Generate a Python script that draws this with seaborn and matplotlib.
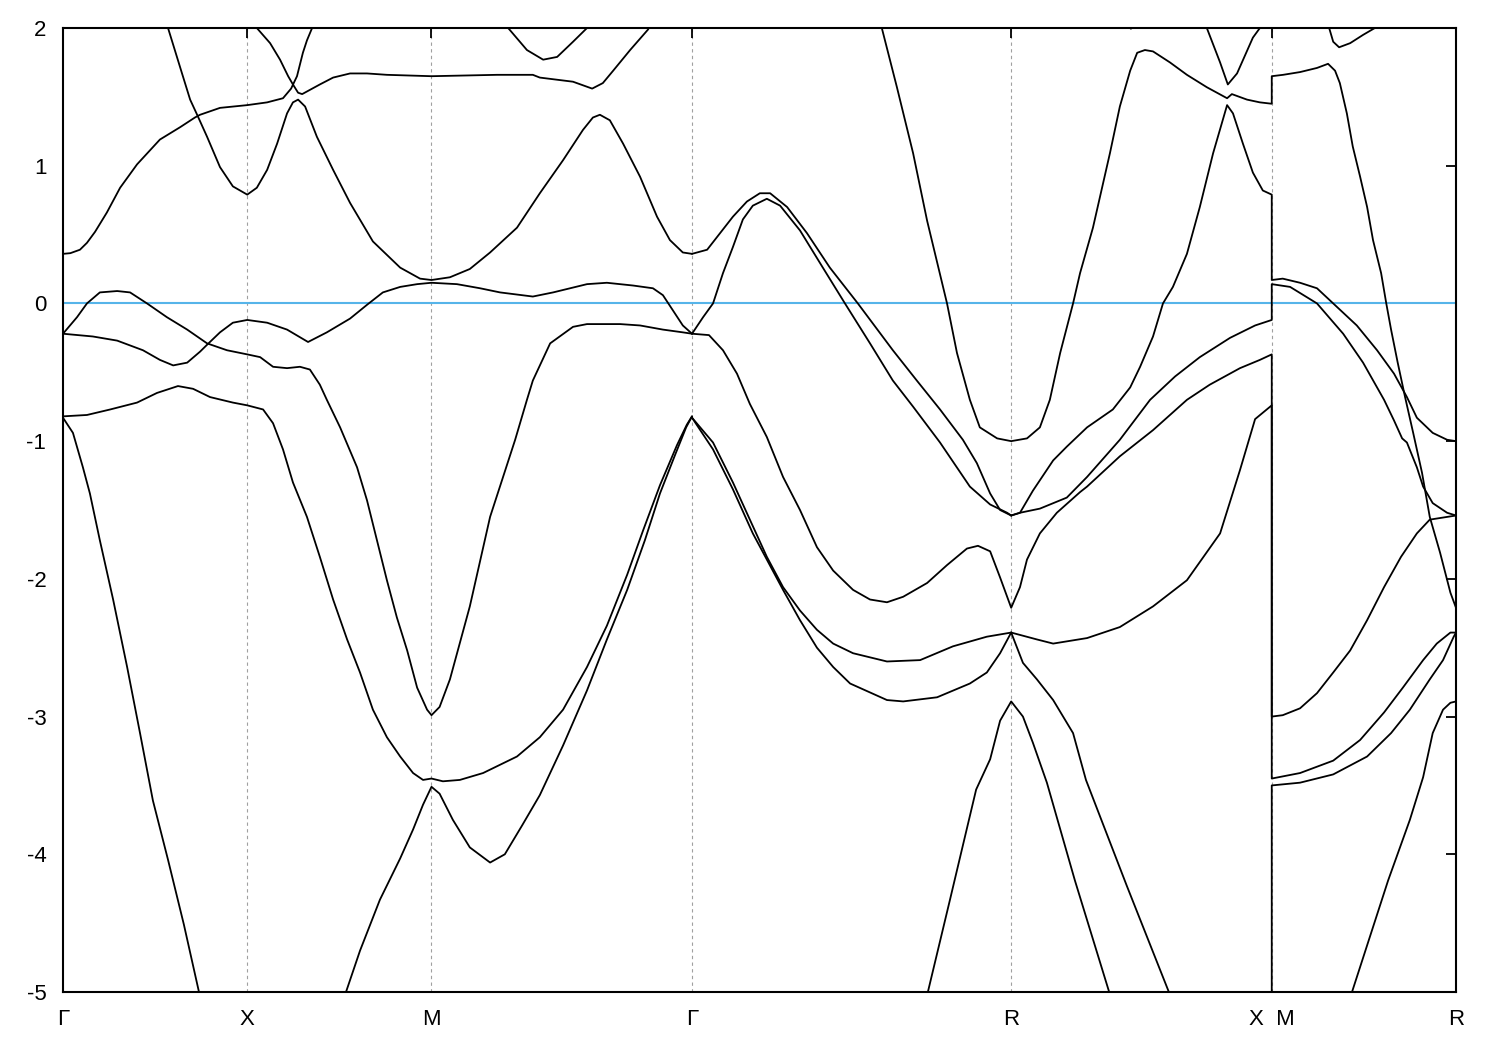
import matplotlib
matplotlib.use("Agg")
import matplotlib.pyplot as plt
import pandas as pd
import seaborn as sns

# ---------------- high-symmetry path ----------------
kpath_labels = ["Γ", "X", "M", "Γ", "R", "X  M", "R"]
kpath_pos = [0.0, 0.5, 1.0, 1.7071, 2.5731, 3.2802, 3.7802]
y_ticks = [2, 1, 0, -1, -2, -3, -4, -5]

# ---------------- band lines (k, E) ----------------
a_k = [0, 0.020, 0.046, 0.065, 0.087, 0.119, 0.155, 0.201, 0.263, 0.318, 0.358, 0.372, 0.426, 0.5,
       0.554, 0.597, 0.619, 0.635, 0.651, 0.662, 0.676, 0.681]
a_e = [0.36, 0.365, 0.39, 0.44, 0.52, 0.66, 0.84, 1.01, 1.19, 1.28, 1.35, 1.37, 1.42, 1.44,
       1.46, 1.49, 1.56, 1.65, 1.82, 1.91, 2.0, 2.05]

b_k = [0.28, 0.285, 0.323, 0.345, 0.364, 0.391, 0.426, 0.461, 0.5, 0.526, 0.554, 0.581,
       0.608, 0.624, 0.638, 0.657, 0.689, 0.733, 0.779, 0.841, 0.915, 0.969, 1.0,
       1.050, 1.104, 1.159, 1.232, 1.294, 1.357, 1.411, 1.438, 1.457, 1.484, 1.520,
       1.566, 1.612, 1.647, 1.682, 1.707]
b_e = [2.04, 2.0, 1.67, 1.48, 1.37, 1.21, 0.99, 0.85, 0.79, 0.84, 0.97, 1.16,
       1.38, 1.46, 1.48, 1.43, 1.21, 0.97, 0.73, 0.45, 0.26, 0.18, 0.17,
       0.19, 0.25, 0.37, 0.55, 0.80, 1.04, 1.26, 1.35, 1.37, 1.33, 1.16,
       0.92, 0.63, 0.46, 0.37, 0.36]

c_k = [0.52, 0.526, 0.562, 0.589, 0.611, 0.624, 0.638, 0.649, 0.697, 0.733, 0.779, 0.825,
       0.879, 1.0, 1.178, 1.275, 1.294, 1.384, 1.436, 1.465, 1.493, 1.539, 1.588, 1.595]
c_e = [2.05, 2.0, 1.89, 1.77, 1.65, 1.59, 1.53, 1.52, 1.59, 1.64, 1.67, 1.67,
       1.66, 1.65, 1.66, 1.66, 1.64, 1.61, 1.56, 1.60, 1.69, 1.84, 1.99, 2.05]

top_dip_k = [1.20, 1.208, 1.259, 1.303, 1.341, 1.384, 1.422, 1.43]
top_dip_e = [2.05, 2.0, 1.84, 1.77, 1.79, 1.90, 2.0, 2.05]

e1_k = [0, 0.038, 0.065, 0.100, 0.147, 0.182, 0.228, 0.282, 0.337, 0.391, 0.445, 0.5,
        0.535, 0.570, 0.608, 0.643, 0.670, 0.697, 0.716, 0.752, 0.798, 0.825, 0.852,
        0.879, 0.906, 0.934, 0.961, 0.988, 1.0,
        1.022, 1.050, 1.104, 1.159, 1.227, 1.259, 1.275, 1.322, 1.384, 1.422, 1.512,
        1.566, 1.628, 1.682, 1.707]
e1_e = [-0.22, -0.10, 0.0, 0.08, 0.09, 0.08, 0.0, -0.10, -0.19, -0.29, -0.34, -0.37,
        -0.39, -0.46, -0.47, -0.46, -0.48, -0.59, -0.70, -0.90, -1.19, -1.43, -1.72,
        -2.01, -2.28, -2.52, -2.79, -2.95, -2.99,
        -2.93, -2.73, -2.20, -1.55, -0.99, -0.70, -0.56, -0.29, -0.17, -0.15, -0.15,
        -0.16, -0.19, -0.21, -0.22]

e2_k = [0, 0.081, 0.147, 0.217, 0.263, 0.299, 0.337, 0.372, 0.391, 0.426, 0.461, 0.5,
        0.554, 0.608, 0.665, 0.716, 0.779, 0.825, 0.868, 0.915, 0.961, 1.0,
        1.069, 1.132, 1.186, 1.275, 1.330, 1.422, 1.476, 1.547, 1.601, 1.628, 1.655,
        1.682, 1.707]
e2_e = [-0.22, -0.24, -0.27, -0.34, -0.41, -0.45, -0.43, -0.35, -0.30, -0.21, -0.14, -0.12,
        -0.14, -0.19, -0.28, -0.21, -0.11, -0.01, 0.08, 0.12, 0.14, 0.15,
        0.14, 0.11, 0.08, 0.05, 0.08, 0.14, 0.15, 0.13, 0.11, 0.06, -0.05,
        -0.16, -0.22]

f_k = [0, 0.065, 0.128, 0.201, 0.255, 0.312, 0.353, 0.399, 0.461, 0.5,
       0.543, 0.570, 0.597, 0.624, 0.662, 0.697, 0.733, 0.771, 0.806, 0.841, 0.879,
       0.915, 0.950, 0.977, 1.0,
       1.031, 1.077, 1.140, 1.232, 1.294, 1.357, 1.422, 1.476, 1.531, 1.574, 1.620,
       1.666, 1.693, 1.707]
f_e = [-0.82, -0.81, -0.77, -0.72, -0.65, -0.60, -0.62, -0.68, -0.72, -0.74,
       -0.77, -0.87, -1.06, -1.30, -1.55, -1.84, -2.15, -2.44, -2.68, -2.95, -3.15,
       -3.29, -3.41, -3.46, -3.45,
       -3.47, -3.46, -3.41, -3.29, -3.15, -2.95, -2.64, -2.34, -1.97, -1.65, -1.32,
       -1.03, -0.88, -0.82]

g_k = [0, 0.027, 0.054, 0.073, 0.100, 0.136, 0.174, 0.209, 0.244, 0.285, 0.328, 0.369, 0.38]
g_e = [-0.83, -0.94, -1.19, -1.38, -1.72, -2.15, -2.64, -3.12, -3.61, -4.04, -4.51, -5.0, -5.1]

h_k = [0.76, 0.768, 0.806, 0.860, 0.915, 0.950, 0.977, 1.0, 1.022, 1.058, 1.104, 1.159,
       1.199, 1.246, 1.294, 1.357, 1.422, 1.476, 1.531, 1.579, 1.620, 1.661, 1.691, 1.707]
h_e = [-5.1, -5.0, -4.70, -4.33, -4.03, -3.82, -3.64, -3.51, -3.56, -3.75, -3.95, -4.06,
       -4.00, -3.79, -3.57, -3.21, -2.81, -2.44, -2.08, -1.72, -1.38, -1.10, -0.90, -0.82]

u1_k = [1.707, 1.748, 1.783, 1.818, 1.856, 1.891, 1.919, 1.965, 2.019, 2.081, 2.157,
        2.252, 2.317, 2.380, 2.442, 2.480, 2.516, 2.543, 2.5731]
u1_e = [0.36, 0.39, 0.51, 0.63, 0.74, 0.80, 0.80, 0.70, 0.51, 0.26, 0.0,
        -0.34, -0.56, -0.77, -0.99, -1.16, -1.38, -1.50, -1.54]
u2_k = [1.707, 1.737, 1.764, 1.791, 1.818, 1.845, 1.872, 1.910, 1.946, 2.0, 2.062, 2.122,
        2.190, 2.252, 2.307, 2.380, 2.461, 2.516, 2.562, 2.5731]
u2_e = [-0.22, -0.10, 0.0, 0.22, 0.41, 0.61, 0.71, 0.76, 0.71, 0.53, 0.26, 0.0,
        -0.29, -0.56, -0.75, -1.01, -1.33, -1.46, -1.52, -1.54]

v_k = [1.707, 1.753, 1.791, 1.829, 1.864, 1.910, 1.954, 2.0, 2.046, 2.090, 2.144, 2.190,
       2.236, 2.280, 2.345, 2.399, 2.453, 2.483, 2.516, 2.543, 2.5731,
       2.597, 2.616, 2.651, 2.697, 2.760, 2.779, 2.868, 2.958, 3.050, 3.112, 3.194,
       3.248, 3.2802,
       3.2802, 3.310, 3.357, 3.403, 3.447, 3.493, 3.539, 3.585, 3.631, 3.674, 3.709, 3.7802]
v_e = [-0.22, -0.23, -0.34, -0.51, -0.73, -0.97, -1.26, -1.50, -1.77, -1.94, -2.08, -2.15,
       -2.17, -2.13, -2.03, -1.90, -1.78, -1.76, -1.80, -1.99, -2.21,
       -2.06, -1.86, -1.67, -1.52, -1.37, -1.33, -1.11, -0.92, -0.70, -0.59, -0.47,
       -0.41, -0.37,
       -3.0, -2.99, -2.94, -2.83, -2.68, -2.52, -2.30, -2.06, -1.84, -1.67, -1.57, -1.54]

w1_k = [1.707, 1.764, 1.818, 1.864, 1.910, 1.954, 2.0, 2.046, 2.090, 2.144, 2.236,
        2.326, 2.415, 2.507, 2.5731]
w1_e = [-0.83, -1.01, -1.30, -1.57, -1.84, -2.06, -2.23, -2.37, -2.47, -2.54, -2.60,
        -2.59, -2.49, -2.42, -2.39]
w2_k = [1.707, 1.764, 1.818, 1.872, 1.910, 1.954, 2.0, 2.046, 2.090, 2.136, 2.236,
        2.280, 2.372, 2.461, 2.507, 2.543, 2.5731]
w2_e = [-0.83, -1.06, -1.35, -1.67, -1.86, -2.08, -2.30, -2.50, -2.64, -2.76, -2.88,
        -2.89, -2.86, -2.76, -2.68, -2.54, -2.39]

bigu_k = [2.218, 2.222, 2.263, 2.307, 2.345, 2.399, 2.426, 2.461, 2.488, 2.535,
          2.5731, 2.616, 2.651, 2.678, 2.706, 2.741, 2.760, 2.795, 2.841, 2.868, 2.896,
          2.915, 2.936, 2.958, 3.004, 3.050, 3.104, 3.159, 3.172, 3.213, 3.248, 3.2802,
          3.2802, 3.311, 3.357, 3.403, 3.433, 3.452, 3.465, 3.484, 3.500, 3.520, 3.539,
          3.555, 3.577, 3.591, 3.604, 3.622, 3.642, 3.664, 3.688, 3.709, 3.737, 3.765,
          3.7802]
bigu_e = [2.05, 2.0, 1.57, 1.09, 0.60, 0.0, -0.36, -0.70, -0.90, -0.98,
          -1.0, -0.98, -0.90, -0.70, -0.36, 0.0, 0.22, 0.55, 1.09, 1.43, 1.69,
          1.82, 1.84, 1.83, 1.75, 1.66, 1.57, 1.49, 1.52, 1.48, 1.46, 1.45,
          1.65, 1.66, 1.68, 1.71, 1.74, 1.69, 1.60, 1.38, 1.14, 0.92, 0.70,
          0.46, 0.22, 0.0, -0.19, -0.43, -0.68, -0.94, -1.23, -1.55, -1.81, -2.10,
          -2.21]

rb_k = [2.5731, 2.597, 2.632, 2.687, 2.724, 2.779, 2.849, 2.896, 2.923, 2.958, 2.985,
        3.012, 3.050, 3.085, 3.121, 3.159, 3.175, 3.202, 3.229, 3.256, 3.2802,
        3.2802, 3.310, 3.357, 3.403, 3.447, 3.511, 3.566, 3.612, 3.647, 3.674, 3.717,
        3.756, 3.7802]
rb_e = [-1.54, -1.52, -1.36, -1.14, -1.04, -0.90, -0.77, -0.61, -0.46, -0.24, 0.0,
        0.12, 0.36, 0.70, 1.09, 1.44, 1.38, 1.16, 0.95, 0.82, 0.79,
        0.17, 0.18, 0.15, 0.11, 0.0, -0.16, -0.34, -0.51, -0.68, -0.83, -0.94,
        -0.99, -1.0]

ra_k = [2.5731, 2.597, 2.651, 2.724, 2.779, 2.868, 2.950, 3.018, 3.085, 3.167, 3.235,
        3.2802,
        3.2802, 3.330, 3.403, 3.474, 3.528, 3.585, 3.612, 3.634, 3.647, 3.674, 3.691,
        3.717, 3.756, 3.7802]
ra_e = [-1.54, -1.52, -1.49, -1.41, -1.26, -0.99, -0.70, -0.53, -0.39, -0.25, -0.16,
        -0.12,
        0.14, 0.12, 0.0, -0.22, -0.43, -0.70, -0.85, -0.98, -1.01, -1.19, -1.33,
        -1.45, -1.52, -1.54]

rd_k = [2.5731, 2.643, 2.687, 2.779, 2.868, 2.958, 3.050, 3.140, 3.194, 3.235, 3.2802,
        3.2802, 3.357, 3.447, 3.520, 3.585, 3.636, 3.691, 3.728, 3.765, 3.7802]
rd_e = [-2.39, -2.44, -2.47, -2.43, -2.35, -2.20, -2.01, -1.67, -1.21, -0.84, -0.74,
        -3.45, -3.41, -3.32, -3.17, -2.97, -2.79, -2.59, -2.47, -2.39, -2.39]

rm_k = [3.2802, 3.2802, 3.357, 3.447, 3.539, 3.604, 3.655, 3.709, 3.745, 3.774, 3.7802]
rm_e = [-5.2, -3.50, -3.48, -3.42, -3.29, -3.12, -2.95, -2.73, -2.59, -2.42, -2.39]

rn_k = [3.49, 3.498, 3.596, 3.655, 3.691, 3.717, 3.745, 3.765, 3.7802]
rn_e = [-5.05, -5.0, -4.19, -3.75, -3.44, -3.12, -2.95, -2.90, -2.89]

rg_k = [2.34, 2.347, 2.407, 2.478, 2.516, 2.543, 2.5731, 2.605, 2.632, 2.670, 2.746, 2.839, 2.845]
rg_e = [-5.05, -5.0, -4.33, -3.53, -3.31, -3.03, -2.89, -3.00, -3.19, -3.48, -4.19, -5.0, -5.05]
re_k = [2.5731, 2.605, 2.643, 2.687, 2.741, 2.776, 2.887, 3.001, 3.01]
re_e = [-2.39, -2.61, -2.73, -2.88, -3.12, -3.46, -4.23, -5.0, -5.05]

rtop_k = [3.10, 3.104, 3.140, 3.161, 3.186, 3.229, 3.248, 3.252]
rtop_e = [2.03, 2.0, 1.75, 1.59, 1.67, 1.93, 2.0, 2.03]
touch_k = [2.885, 2.898, 2.911]
touch_e = [2.02, 1.995, 2.02]

mtop_k = [3.434, 3.436, 3.447, 3.463, 3.493, 3.528, 3.560, 3.565]
mtop_e = [2.03, 2.0, 1.90, 1.86, 1.89, 1.95, 2.0, 2.03]

line_sets = [
    (a_k, a_e), (b_k, b_e), (c_k, c_e), (top_dip_k, top_dip_e), (e1_k, e1_e),
    (e2_k, e2_e), (f_k, f_e), (g_k, g_e), (h_k, h_e), (u1_k, u1_e), (u2_k, u2_e),
    (v_k, v_e), (w1_k, w1_e), (w2_k, w2_e), (bigu_k, bigu_e), (rb_k, rb_e),
    (ra_k, ra_e), (rd_k, rd_e), (rm_k, rm_e), (rn_k, rn_e), (rg_k, rg_e),
    (re_k, re_e), (rtop_k, rtop_e), (touch_k, touch_e), (mtop_k, mtop_e),
]

frames = []
for i, (ks, es) in enumerate(line_sets):
    frames.append(pd.DataFrame({"k": ks, "E": es, "band": i}))
df = pd.concat(frames, ignore_index=True)

# ---------------- drawing ----------------
sns.set_style("white")
plt.rcParams["font.family"] = ["Liberation Sans", "DejaVu Sans"]
plt.rcParams["axes.unicode_minus"] = False

fig = plt.figure(figsize=(15, 10.5), dpi=100)
ax = fig.add_axes([63 / 1500, 1 - 992 / 1050, (1456 - 63) / 1500, (992 - 28) / 1050])

for xv in kpath_pos[1:-1]:
    ax.axvline(xv, color="#a0a0a0", lw=0.8, ls=(0, (3, 3)), zorder=0)

ax.axhline(0, color="#56b4e9", lw=1.5, zorder=1)

sns.lineplot(data=df, x="k", y="E", units="band", estimator=None, sort=False,
             color="black", lw=1.3, ax=ax, legend=False, zorder=2)

ax.set_xlim(kpath_pos[0], kpath_pos[-1])
ax.set_ylim(-5, 2)
ax.set_xticks(kpath_pos)
ax.set_xticklabels(kpath_labels)
ax.set_yticks(y_ticks)
ax.set_yticklabels([str(v) for v in y_ticks])
ax.set_xlabel("")
ax.set_ylabel("")

for s in ax.spines.values():
    s.set_color("black")
    s.set_linewidth(1.5)
    s.set_visible(True)

ax.tick_params(axis="both", which="major", direction="in", length=7, width=1.3,
               top=True, right=True, labelsize=16, colors="black")
ax.tick_params(axis="y", pad=12)
ax.tick_params(axis="x", pad=12)

fig.savefig("out.png", dpi=100)
